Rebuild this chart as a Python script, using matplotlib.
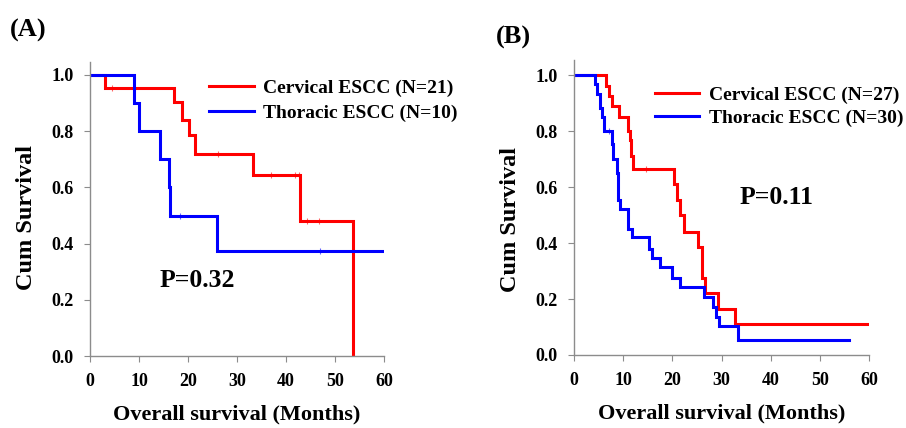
import matplotlib
matplotlib.use("Agg")
import matplotlib.pyplot as plt
import numpy as np

plt.rcParams["font.family"] = ["Liberation Serif", "DejaVu Serif"]
plt.rcParams["font.weight"] = "bold"

# (A) Kaplan-Meier steps
a_cerv_t = [0, 3.1, 17.2, 18.7, 20.2, 21.5, 33.3, 42.9, 53.7]
a_cerv_s = [1.0, 0.952, 0.905, 0.84, 0.785, 0.72, 0.645, 0.48, 0.0]
a_cerv_cens = [4.4, 26.2, 36.9, 41.9, 42.6, 44.3, 46.7]
a_thor_t = [0, 8.9, 10.0, 14.3, 16.2, 16.4, 25.9, 60.0]
a_thor_s = [1.0, 0.9, 0.8, 0.7, 0.6, 0.5, 0.375, 0.375]
a_thor_cens = [18.4, 47.0]

# (B)
b_cerv_t = [0, 6.6, 7.2, 7.65, 9.1, 10.9, 11.4, 11.6, 11.9, 20.4, 21.0, 21.5,
            22.3, 25.3, 26.1, 26.7, 29.2, 32.7, 60.0]
b_cerv_s = [1.0, 0.963, 0.926, 0.889, 0.852, 0.80, 0.77, 0.71, 0.663, 0.61, 0.553,
            0.50, 0.44, 0.387, 0.276, 0.22, 0.166, 0.11, 0.11]
b_cerv_cens = [14.6]
b_thor_t = [0, 4.3, 4.7, 5.3, 5.6, 6.0, 7.65, 8.0, 8.7, 9.0, 9.4, 11.0, 11.7, 15.3,
            15.8, 17.5, 20.0, 21.5, 26.4, 28.2, 28.8, 29.5, 33.4, 55.9]
b_thor_s = [1.0, 0.967, 0.933, 0.883, 0.85, 0.80, 0.755, 0.70, 0.65, 0.555, 0.52,
            0.45, 0.42, 0.38, 0.345, 0.315, 0.275, 0.244, 0.208, 0.173, 0.137,
            0.104, 0.052, 0.052]
b_thor_cens = [7.2]

x_ticks = [0, 10, 20, 30, 40, 50, 60]
y_ticks = [0.0, 0.2, 0.4, 0.6, 0.8, 1.0]

RED = "#ff0000"
BLUE = "#0000ff"
GRAY = "#8c8c8c"


def km(ax, t, s, cens, color, label):
    ax.step(t, s, where="post", color=color, lw=2.2, label=label, solid_joinstyle="miter")
    if cens:
        idx = np.searchsorted(t, cens, side="right") - 1
        ax.plot(cens, np.array(s)[idx], ls="none", marker="|", ms=5, mew=0.8,
                color=color, alpha=0.6)


def style(ax, ytop):
    ax.set_xlim(0, 60)
    ax.set_ylim(0, ytop)
    ax.set_xticks(x_ticks)
    ax.set_yticks(y_ticks)
    ax.set_yticklabels([f"{v:.1f}" for v in y_ticks])
    for sp in ("top", "right"):
        ax.spines[sp].set_visible(False)
    for sp in ("left", "bottom"):
        ax.spines[sp].set_color(GRAY)
        ax.spines[sp].set_linewidth(1.0)
    ax.tick_params(colors="black", labelsize=13, length=4, width=0.8, pad=8)
    ax.tick_params(axis="both", color=GRAY)
    ax.set_xlabel("Overall survival (Months)", fontsize=16, fontweight="bold", va="top")
    ax.set_ylabel("Cum Survival", fontsize=17.5, fontweight="bold", va="center")
    ax.xaxis.set_label_coords(0.5, -0.163)


fig = plt.figure(figsize=(9.06, 4.28), dpi=100)
ax_a = fig.add_axes([0.0993, 0.168, 0.3245, 0.687])
ax_b = fig.add_axes([0.6336, 0.1706, 0.3256, 0.689])

km(ax_a, a_cerv_t, a_cerv_s, a_cerv_cens, RED, "Cervical ESCC (N=21)")
km(ax_a, a_thor_t, a_thor_s, a_thor_cens, BLUE, "Thoracic ESCC (N=10)")
style(ax_a, 1.046)
ax_a.yaxis.set_label_coords(-0.215, 0.47)
ax_a.text(14.3, 0.27, "P=0.32", fontsize=18.5, fontweight="bold", va="center")
ax_a.legend(loc="upper left", bbox_to_anchor=(0.345, 1.0), frameon=False,
            fontsize=14, handlelength=2.3, handletextpad=0.5, labelspacing=0.38)

km(ax_b, b_cerv_t, b_cerv_s, b_cerv_cens, RED, "Cervical ESCC (N=27)")
km(ax_b, b_thor_t, b_thor_s, b_thor_cens, BLUE, "Thoracic ESCC (N=30)")
style(ax_b, 1.054)
ax_b.yaxis.set_label_coords(-0.215, 0.458)
ax_b.text(33.7, 0.564, "P=0.11", fontsize=18.5, fontweight="bold", va="center")
ax_b.legend(loc="upper left", bbox_to_anchor=(0.214, 0.972), frameon=False,
            fontsize=14, handlelength=2.3, handletextpad=0.5, labelspacing=0.3)

fig.text(0.011, 0.928, "(A)", fontsize=19, fontweight="bold", va="center")
fig.text(0.547, 0.912, "(B)", fontsize=19, fontweight="bold", va="center")

fig.savefig("out.png", dpi=100)
